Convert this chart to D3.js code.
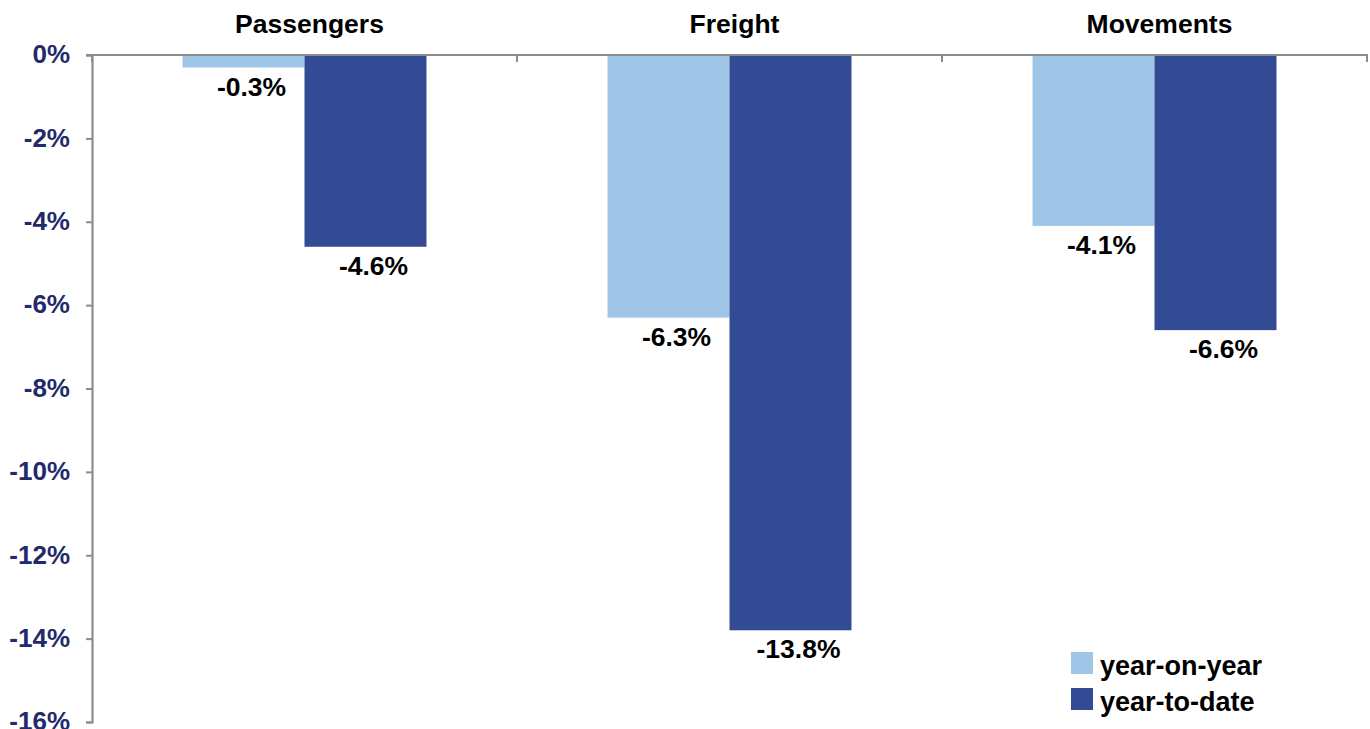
<!DOCTYPE html>
<html>
<head>
<meta charset="utf-8">
<script src="https://cdn.jsdelivr.net/npm/d3@7"></script>
<style>
  html, body { margin: 0; padding: 0; background: #fff; }
  svg { display: block; }
  text { font-family: "Liberation Sans", Arial, sans-serif; font-weight: bold; }
</style>
</head>
<body>
<svg id="chart" width="1370" height="729"></svg>
<script>
const categories = ["Passengers", "Freight", "Movements"];
const seriesNames = ["year-on-year", "year-to-date"];
const yearOnYear = [-0.3, -6.3, -4.1];
const yearToDate = [-4.6, -13.8, -6.6];
const tickValues = [0, -2, -4, -6, -8, -10, -12, -14, -16];
const seriesColors = ["#9fc6e7", "#334a94"];

const svg = d3.select("#chart");
const left = 92, right = 1367, top0 = 55, bottom = 722;

const x = d3.scaleBand().domain(categories).range([left, right]).padding(0);
const xs = d3.scaleBand().domain(seriesNames).range([0, x.bandwidth()])
  .paddingInner(0).paddingOuter(0.742);
const y = d3.scaleLinear().domain([-16, 0]).range([bottom, top0]);

const data = [];
categories.forEach((c, i) => {
  data.push({ cat: c, s: seriesNames[0], v: yearOnYear[i], color: seriesColors[0] });
  data.push({ cat: c, s: seriesNames[1], v: yearToDate[i], color: seriesColors[1] });
});

// bars
svg.append("g").selectAll("rect").data(data).join("rect")
  .attr("x", d => x(d.cat) + xs(d.s))
  .attr("width", xs.bandwidth())
  .attr("y", y(0))
  .attr("height", d => y(d.v) - y(0))
  .attr("fill", d => d.color);

// y axis
const yAxis = d3.axisLeft(y).tickValues(tickValues).tickSize(6).tickFormat(d => d + "%");
const gy = svg.append("g").attr("transform", `translate(${left},0)`).call(yAxis);
gy.select(".domain").attr("stroke", "#8c8c8c").attr("stroke-width", 2.2);
gy.selectAll(".tick line").attr("stroke", "#8c8c8c").attr("stroke-width", 2);
gy.selectAll(".tick text")
  .attr("x", -22)
  .attr("dy", "0.3em")
  .attr("fill", "#232a6b")
  .style("font-size", "26px")
  .style("font-family", "'Liberation Sans', Arial, sans-serif")
  .style("font-weight", "bold");

// top axis at 0 with ticks pointing down at category boundaries
const boundaries = categories.map(c => x(c)).concat([right]);
svg.append("line")
  .attr("x1", left - 6).attr("x2", right + 1)
  .attr("y1", y(0)).attr("y2", y(0))
  .attr("stroke", "#8c8c8c").attr("stroke-width", 2.2);
svg.append("g").selectAll("line").data(boundaries).join("line")
  .attr("x1", d => d).attr("x2", d => d)
  .attr("y1", y(0)).attr("y2", y(0) + 7)
  .attr("stroke", "#8c8c8c").attr("stroke-width", 2);

// category labels
svg.append("g").selectAll("text").data(categories).join("text")
  .attr("x", d => x(d) + x.bandwidth() / 2 + 5)
  .attr("y", 33)
  .attr("text-anchor", "middle")
  .attr("fill", "#000")
  .style("font-size", "26.5px")
  .text(d => d);

// value labels
svg.append("g").selectAll("text").data(data).join("text")
  .attr("x", d => x(d.cat) + xs(d.s) + xs.bandwidth() / 2 + 8)
  .attr("y", d => y(d.v) + 28)
  .attr("text-anchor", "middle")
  .attr("fill", "#000")
  .style("font-size", "26.5px")
  .text(d => d.v.toFixed(1) + "%");

// legend
const lg = svg.append("g").attr("transform", "translate(1071,652)");
seriesNames.forEach((s, i) => {
  lg.append("rect").attr("x", 0).attr("y", i * 36).attr("width", 22).attr("height", 22)
    .attr("fill", seriesColors[i]);
  lg.append("text").attr("x", 29).attr("y", i * 36 + 23)
    .attr("fill", "#000").style("font-size", "27px").text(s);
});
</script>
</body>
</html>
